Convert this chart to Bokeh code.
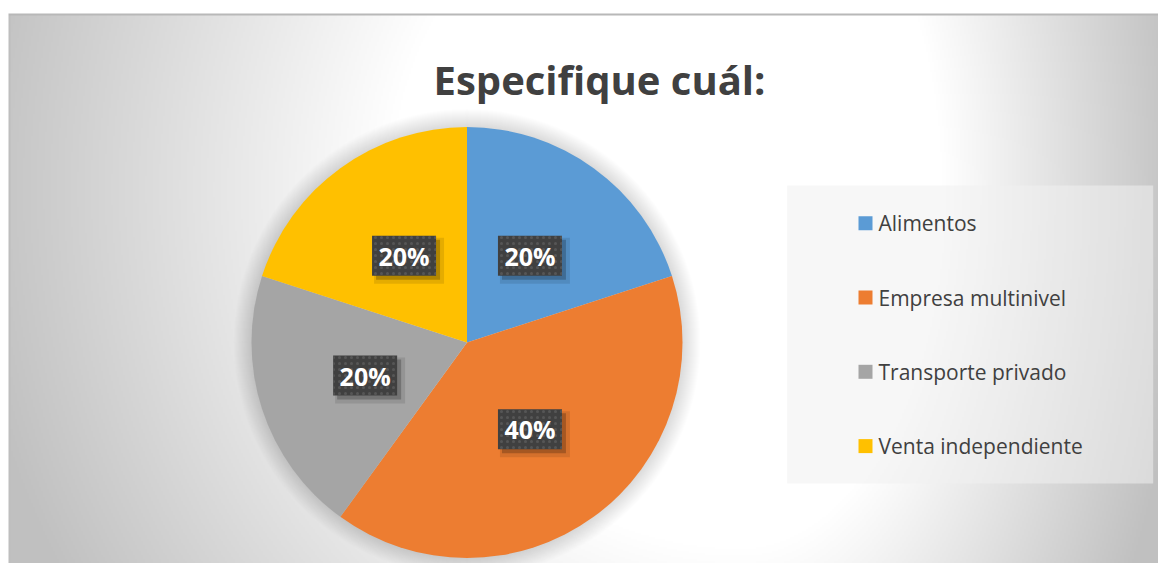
import numpy as np
from bokeh.plotting import figure
from bokeh.models import ColumnDataSource, Range1d
from bokeh.core.properties import value
from bokeh.embed import file_html
from bokeh.resources import INLINE

# ---- data ----
categories = ["Alimentos", "Empresa multinivel", "Transporte privado", "Venta independiente"]
shares = [20, 40, 20, 20]
colors = ["#5B9BD5", "#ED7D31", "#A5A5A5", "#FFC000"]
title_text = "Especifique cuál:"

W, H = 1158, 563

def X(px):
    return px

def Y(py):
    return H - py

p = figure(width=W, height=H, output_backend="svg", toolbar_location=None,
           x_range=Range1d(0, W), y_range=Range1d(0, H), min_border=0,
           border_fill_color="white", background_fill_color="white")
p.axis.visible = False
p.grid.visible = False
p.outline_line_color = None

# ---- background radial gradient (style only) ----
ds = 2
left0, top0 = 8, 14
gw, gh = (W - left0) // ds + 1, (H - top0) // ds + 1
xs = np.arange(gw) * ds + float(left0)     # page x
ys = (H - np.arange(gh) * ds).astype(float)  # page y (row 0 = bottom)
PX, PY = np.meshgrid(xs, ys)
cx, cy = 740.0, 190.0
dx = PX - cx
dy = PY - cy
sx = np.where(dx < 0, 780.0, 447.0)
t = np.sqrt((dx / sx) ** 2 + (dy / 800.0) ** 2)
diff = 63.0 * np.clip((t - 0.45) / 0.55, 0, 1)
g = (255 - diff).astype(np.uint8)
g[-1, :] = 184
g[:, 0] = np.minimum(g[:, 0], 190)
img = np.empty((gh, gw), dtype=np.uint32)
v = img.view(dtype=np.uint8).reshape((gh, gw, 4))
v[:, :, 0] = g
v[:, :, 1] = g
v[:, :, 2] = g
v[:, :, 3] = 255
p.image_rgba(image=[img], x=left0, y=0, dw=gw * ds, dh=gh * ds)

# ---- pie ----
pcx, pcy, R = X(466.5), Y(342), 215.5
frac = np.array(shares, dtype=float) / sum(shares)
cum = np.concatenate([[0], np.cumsum(frac)])
start = np.pi / 2 - 2 * np.pi * cum[:-1]
end = np.pi / 2 - 2 * np.pi * cum[1:]
mid = (start + end) / 2

# soft glow shadow around the pie
for k in range(1, 19):
    p.circle(x=pcx, y=pcy, radius=R + k, fill_color="black", fill_alpha=0.009, line_color=None)

src = ColumnDataSource(dict(start=start, end=end, color=colors, cat=categories))
p.wedge(x=pcx, y=pcy, radius=R, start_angle="start", end_angle="end", direction="clock",
        fill_color="color", line_color=None, source=src)

# ---- data labels ----
lr = 0.497 * R
lx = pcx + lr * np.cos(mid)
ly = pcy + lr * np.sin(mid)
labels = [f"{s}%" for s in shares]
lsrc = ColumnDataSource(dict(x=lx, y=ly, xs1=lx + 4, ys1=ly - 4, xs2=lx + 5, ys2=ly - 5, text=labels))
p.rect(x="xs2", y="ys2", width=70, height=46, fill_color="black", fill_alpha=0.10, line_color=None, source=lsrc)
p.rect(x="xs1", y="ys1", width=64, height=40, fill_color="black", fill_alpha=0.22, line_color=None, source=lsrc)
p.rect(x="x", y="y", width=64, height=40, fill_color="#404040", line_color=None,
       hatch_pattern="dot", hatch_color="#565656", hatch_scale=6, hatch_weight=1.5, source=lsrc)
p.text(x="x", y="y", text="text", text_font=value("Open Sans"), text_font_style="bold",
       text_font_size="25px", text_color="white", text_align="center", text_baseline="middle",
       source=lsrc)

# ---- title ----
p.text(x=[X(599)], y=[Y(79)], text=[title_text], text_font=value("Open Sans"),
       text_font_style="bold", text_font_size="40px", text_color="#404040",
       text_align="center", text_baseline="alphabetic")

# ---- legend ----
p.rect(x=X(969.7), y=Y(334), width=366, height=298, fill_color="#f0f0f0", fill_alpha=0.55, line_color=None)
idx = np.arange(len(categories))
leg_y = Y(222.7) - idx * 74.3
legsrc = ColumnDataSource(dict(x=np.full(len(categories), X(865)), tx=np.full(len(categories), X(878)),
                               y=leg_y, color=colors, text=categories))
p.rect(x="x", y="y", width=14, height=14, fill_color="color", line_color=None, source=legsrc)
p.text(x="tx", y="y", text="text", text_font=value("Open Sans"), text_font_size="21px",
       text_color="#404040", text_align="left", text_baseline="middle", source=legsrc)

open("out.html", "w").write(file_html(p, INLINE))
